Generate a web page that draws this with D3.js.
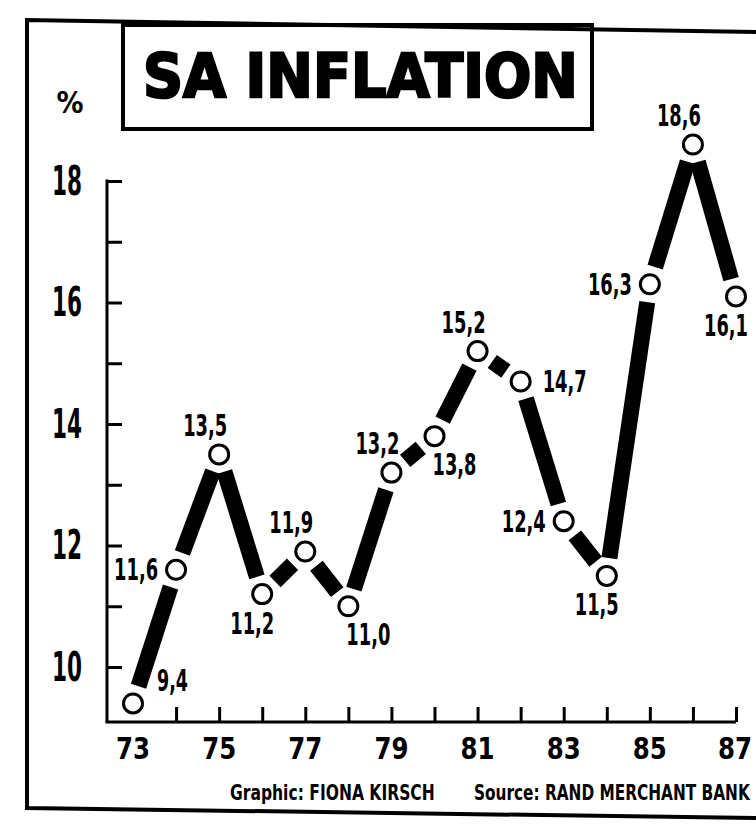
<!DOCTYPE html>
<html>
<head>
<meta charset="utf-8">
<script src="https://cdnjs.cloudflare.com/ajax/libs/d3/7.8.5/d3.min.js"></script>
<style>
  html, body { margin: 0; padding: 0; background: #fff; }
  svg { display: block; }
  .narrow { font-family: "Liberation Sans Narrow", "DejaVu Sans Condensed", "Roboto Condensed", sans-serif; font-weight: bold; }
</style>
</head>
<body>
<svg id="chart" width="756" height="824"></svg>
<script>
// SA inflation, yearly %
var years = [73, 74, 75, 76, 77, 78, 79, 80, 81, 82, 83, 84, 85, 86, 87];
var inflation = [9.4, 11.6, 13.5, 11.2, 11.9, 11.0, 13.2, 13.8, 15.2, 14.7, 12.4, 11.5, 16.3, 18.6, 16.1];
var valueLabels = ['9,4', '11,6', '13,5', '11,2', '11,9', '11,0', '13,2', '13,8', '15,2', '14,7', '12,4', '11,5', '16,3', '18,6', '16,1'];
var labelSide = ['ur', 'l', 'u', 'd', 'u', 'dr', 'u', 'dr', 'u', 'r', 'l', 'd', 'l', 'u', 'd'];
var yTickLabels = [10, 12, 14, 16, 18];
var xTickLabels = [73, 75, 77, 79, 81, 83, 85, 87];
var title = 'SA INFLATION';
var unitLabel = '%';
var credits = ['Graphic: FIONA KIRSCH', 'Source: RAND MERCHANT BANK'];

var svg = d3.select('#chart');
var AXIS_X = 107;
var BASE_Y = 722;
var GAP = 18;

var x = d3.scaleLinear().domain([73, 87]).range([133, 736]);
var y = d3.scaleLinear().domain([10, 18]).range([667, 181]);

// squash text horizontally to a given width (the print face is very condensed)
function squeeze(sel, widthFn) {
  sel.each(function(d, i) {
    var node = d3.select(this);
    var s = widthFn(d, i) / this.getComputedTextLength();
    var x0 = +node.attr('x'), y0 = +node.attr('y');
    node.attr('x', 0).attr('y', 0)
      .attr('transform', 'translate(' + x0 + ',' + y0 + ') scale(' + s + ',1)');
  });
}

// outer frame
var frame = svg.append('g').attr('stroke', '#000').attr('fill', 'none');
frame.append('path').attr('stroke-width', 4).attr('d', 'M756,32 L27,20 L27,808 L756,818');

// title box
svg.append('rect')
  .attr('x', 123).attr('y', 25).attr('width', 469).attr('height', 104)
  .attr('fill', 'none').attr('stroke', '#000').attr('stroke-width', 4);

svg.append('text')
  .attr('x', 143).attr('y', 97)
  .attr('font-family', '"DejaVu Sans", sans-serif')
  .attr('font-weight', 'bold')
  .attr('font-size', 60)
  .attr('stroke', '#000').attr('stroke-width', 2.5)
  .text(title)
  .call(squeeze, function() { return 435; });

svg.append('text')
  .attr('class', 'narrow')
  .attr('x', 70).attr('y', 102)
  .attr('text-anchor', 'middle').attr('dominant-baseline', 'central')
  .attr('font-size', 30)
  .text(unitLabel);

// y axis
var yAxis = d3.axisRight(y).tickValues(d3.range(10, 19)).tickSize(15).tickFormat('');
var yg = svg.append('g').attr('transform', 'translate(' + AXIS_X + ',0)').call(yAxis);
yg.select('.domain').remove();
yg.selectAll('line').attr('stroke', '#000').attr('stroke-width', 3);
svg.append('line')
  .attr('x1', AXIS_X).attr('x2', AXIS_X)
  .attr('y1', y(18) - 1.5).attr('y2', BASE_Y)
  .attr('stroke', '#000').attr('stroke-width', 3);

svg.selectAll('.ylab')
  .data(yTickLabels)
  .enter()
  .append('text')
  .attr('class', 'ylab narrow')
  .attr('x', 52)
  .attr('y', function(d) { return y(d); })
  .attr('dominant-baseline', 'central')
  .attr('font-size', 40)
  .text(function(d) { return d; })
  .call(squeeze, function() { return 30; });

// x axis
var xAxis = d3.axisTop(x).tickValues(d3.range(74, 88)).tickSize(15).tickFormat('');
var xg = svg.append('g').attr('transform', 'translate(0,' + BASE_Y + ')').call(xAxis);
xg.select('.domain').remove();
xg.selectAll('line').attr('stroke', '#000').attr('stroke-width', 3);
svg.append('line')
  .attr('x1', AXIS_X - 1.5).attr('x2', x(87))
  .attr('y1', BASE_Y).attr('y2', BASE_Y)
  .attr('stroke', '#000').attr('stroke-width', 3);

svg.selectAll('.xlab')
  .data(xTickLabels)
  .enter()
  .append('text')
  .attr('class', 'xlab narrow')
  .attr('x', function(d) { return Math.min(x(d), 735); })
  .attr('y', 748)
  .attr('text-anchor', 'middle')
  .attr('dominant-baseline', 'central')
  .attr('font-size', 31)
  .text(function(d) { return d; })
  .call(squeeze, function() { return 34; });

// thick line, broken short of each marker
var pts = years.map(function(yr, i) { return [x(yr), y(inflation[i])]; });
var segs = d3.pairs(pts).map(function(p) {
  var dx = p[1][0] - p[0][0], dy = p[1][1] - p[0][1];
  var len = Math.sqrt(dx * dx + dy * dy);
  var ux = dx / len, uy = dy / len;
  return [p[0][0] + ux * GAP, p[0][1] + uy * GAP, p[1][0] - ux * GAP, p[1][1] - uy * GAP];
});

svg.selectAll('.seg')
  .data(segs)
  .enter()
  .append('line')
  .attr('class', 'seg')
  .attr('x1', function(d) { return d[0]; })
  .attr('y1', function(d) { return d[1]; })
  .attr('x2', function(d) { return d[2]; })
  .attr('y2', function(d) { return d[3]; })
  .attr('stroke', '#000')
  .attr('stroke-width', 16);

svg.selectAll('.dot')
  .data(pts)
  .enter()
  .append('circle')
  .attr('class', 'dot')
  .attr('cx', function(d) { return d[0]; })
  .attr('cy', function(d) { return d[1]; })
  .attr('r', 9.5)
  .attr('fill', '#fff')
  .attr('stroke', '#000')
  .attr('stroke-width', 3);

// value labels
var SIDES = {
  u: { dx: -14, dy: -29, anchor: 'middle' },
  d: { dx: -10, dy: 29, anchor: 'middle' },
  dr: { dx: 20, dy: 28, anchor: 'middle' },
  ur: { dx: 24, dy: -23, anchor: 'start' },
  l: { dx: -18, dy: 0, anchor: 'end' },
  r: { dx: 22, dy: 0, anchor: 'start' }
};

svg.selectAll('.vlab')
  .data(valueLabels)
  .enter()
  .append('text')
  .attr('class', 'vlab narrow')
  .attr('x', function(d, i) { return pts[i][0] + SIDES[labelSide[i]].dx; })
  .attr('y', function(d, i) { return pts[i][1] + SIDES[labelSide[i]].dy; })
  .attr('text-anchor', function(d, i) { return SIDES[labelSide[i]].anchor; })
  .attr('dominant-baseline', 'central')
  .attr('font-size', 30)
  .text(function(d) { return d; })
  .call(squeeze, function(d) { return (d.length - 1) * 13 + 5; });

// credits
svg.append('text')
  .attr('class', 'narrow')
  .attr('x', 230).attr('y', 793)
  .attr('dominant-baseline', 'central')
  .attr('font-size', 21)
  .text(credits[0])
  .call(squeeze, function() { return 205; });

svg.append('text')
  .attr('class', 'narrow')
  .attr('x', 474).attr('y', 793)
  .attr('dominant-baseline', 'central')
  .attr('font-size', 21)
  .text(credits[1])
  .call(squeeze, function() { return 276; });
</script>
</body>
</html>
